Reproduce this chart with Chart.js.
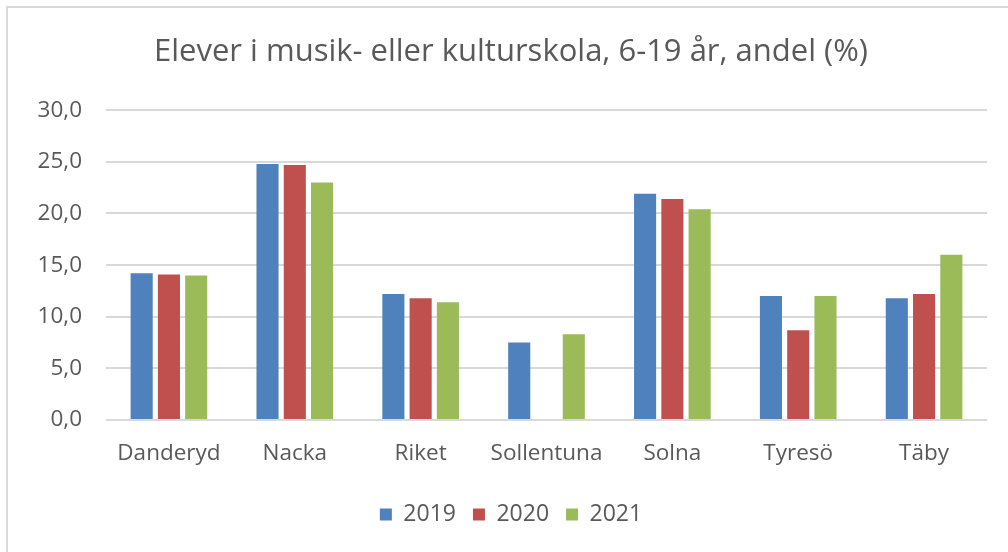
<!DOCTYPE html>
<html>
<head>
<meta charset="utf-8">
<script src="https://cdn.jsdelivr.net/npm/chart.js@4/dist/chart.umd.min.js"></script>
<style>
  html, body { margin: 0; padding: 0; background: #fff; }
  #wrap { width: 1008px; height: 552px; position: relative; }
</style>
</head>
<body>
<div id="wrap"><canvas id="grafik"></canvas></div>
<script>
const kommuner = ["Danderyd", "Nacka", "Riket", "Sollentuna", "Solna", "Tyresö", "Täby"];
const ar = ["2019", "2020", "2021"];
const andel2019 = [14.2, 24.8, 12.2, 7.5, 21.9, 12.0, 11.8];
const andel2020 = [14.1, 24.7, 11.8, null, 21.4, 8.7, 12.2];
const andel2021 = [14.0, 23.0, 11.4, 8.3, 20.4, 12.0, 16.0];
const yTicks = [0, 5, 10, 15, 20, 25, 30];

const farger = ["#4f81bd", "#c0504d", "#9bbb59"];
const textFarg = "#595959";
const typsnitt = "'Open Sans', 'Noto Sans', sans-serif";

// ram runt diagrammet (som i Excel)
const ram = {
  id: "ram",
  beforeDraw(chart) {
    const ctx = chart.ctx;
    ctx.save();
    ctx.strokeStyle = "#d9d9d9";
    ctx.lineWidth = 2;
    ctx.strokeRect(7, 7, 1100, 700);
    ctx.restore();
  }
};

new Chart(document.getElementById("grafik"), {
  type: "bar",
  data: {
    labels: kommuner,
    datasets: [andel2019, andel2020, andel2021].map((d, i) => ({
      label: ar[i],
      data: d,
      backgroundColor: farger[i],
      categoryPercentage: 0.65,
      barPercentage: 0.81
    }))
  },
  options: {
    responsive: true,
    maintainAspectRatio: false,
    animation: false,
    layout: { padding: { left: 35, right: 21, top: 0, bottom: 16 } },
    plugins: {
      title: {
        display: true,
        text: "Elever i musik- eller kulturskola, 6-19 år, andel (%)",
        color: textFarg,
        font: { family: typsnitt, size: 31, weight: "normal" },
        padding: { top: 34, bottom: 39 }
      },
      legend: {
        position: "bottom",
        labels: {
          color: textFarg,
          font: { family: typsnitt, size: 23 },
          boxWidth: 12,
          boxHeight: 12,
          padding: 17
        }
      },
      tooltip: { enabled: false }
    },
    scales: {
      x: {
        grid: { display: false },
        border: { display: false },
        afterFit(scale) {
          scale.height += 7;
        },
        ticks: {
          color: textFarg,
          font: { family: typsnitt, size: 22.5 },
          padding: 12,
          maxRotation: 0
        }
      },
      y: {
        min: 0,
        max: 30,
        afterBuildTicks(scale) {
          scale.ticks = yTicks.map(v => ({ value: v }));
        },
        afterFit(scale) {
          scale.width = 71;
        },
        grid: { color: "#d9d9d9", lineWidth: 2, drawTicks: false },
        border: { display: false },
        ticks: {
          color: textFarg,
          font: { family: typsnitt, size: 22.5 },
          padding: 24,
          callback: v => v.toFixed(1).replace(".", ",")
        }
      }
    }
  },
  plugins: [ram]
});
</script>
</body>
</html>
